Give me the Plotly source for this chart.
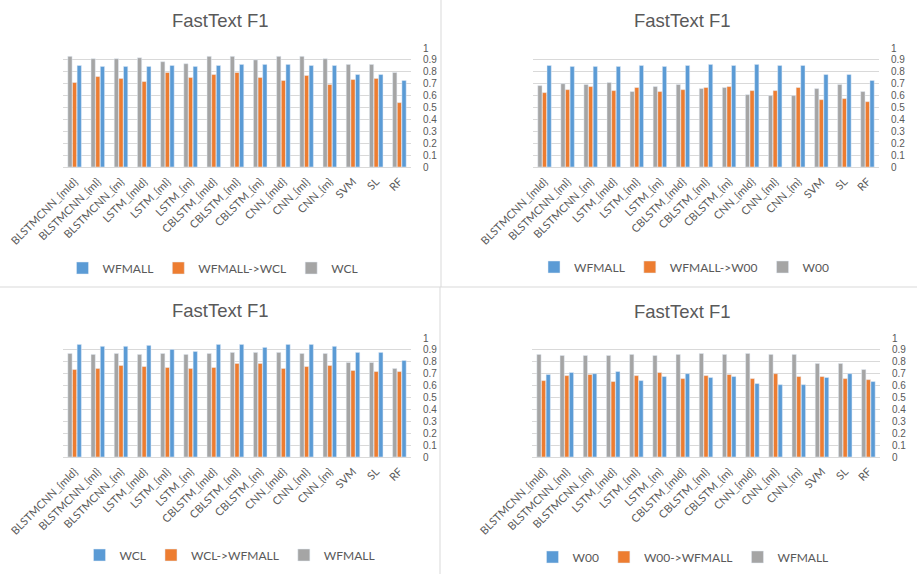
import plotly.graph_objects as go

categories = ["BLSTMCNN_{mld}", "BLSTMCNN_{ml}", "BLSTMCNN_{m}", "LSTM_{mld}", "LSTM_{ml}",
              "LSTM_{m}", "CBLSTM_{mld}", "CBLSTM_{ml}", "CBLSTM_{m}", "CNN_{mld}",
              "CNN_{ml}", "CNN_{m}", "SVM", "SL", "RF"]

# Panel 1 (top-left)
p1_names = ["WFMALL", "WFMALL->WCL", "WCL"]
p1_wfmall = [0.853, 0.845, 0.845, 0.845, 0.853, 0.845, 0.853, 0.862, 0.862, 0.862, 0.853, 0.853, 0.777, 0.777, 0.727]
p1_transfer = [0.71, 0.76, 0.744, 0.718, 0.794, 0.752, 0.777, 0.794, 0.752, 0.727, 0.769, 0.693, 0.735, 0.744, 0.541]
p1_wcl = [0.93, 0.91, 0.91, 0.918, 0.885, 0.868, 0.93, 0.93, 0.90, 0.93, 0.93, 0.91, 0.862, 0.862, 0.794]

# Panel 2 (top-right)
p2_names = ["WFMALL", "WFMALL->W00", "W00"]
p2_wfmall = [0.853, 0.845, 0.845, 0.845, 0.853, 0.845, 0.853, 0.862, 0.853, 0.862, 0.853, 0.853, 0.777, 0.777, 0.727]
p2_transfer = [0.625, 0.65, 0.676, 0.642, 0.668, 0.634, 0.65, 0.668, 0.676, 0.642, 0.642, 0.668, 0.566, 0.575, 0.549]
p2_w00 = [0.684, 0.70, 0.693, 0.71, 0.634, 0.676, 0.693, 0.659, 0.668, 0.608, 0.60, 0.60, 0.659, 0.693, 0.634]

# Panel 3 (bottom-left)
p3_names = ["WCL", "WCL->WFMALL", "WFMALL"]
p3_wcl = [0.946, 0.93, 0.93, 0.938, 0.904, 0.887, 0.946, 0.946, 0.921, 0.946, 0.946, 0.93, 0.879, 0.879, 0.811]
p3_transfer = [0.735, 0.744, 0.769, 0.76, 0.752, 0.744, 0.752, 0.786, 0.786, 0.744, 0.76, 0.769, 0.727, 0.718, 0.718]
p3_wfmall = [0.87, 0.862, 0.87, 0.862, 0.87, 0.862, 0.87, 0.879, 0.879, 0.879, 0.87, 0.87, 0.794, 0.794, 0.744]

# Panel 4 (bottom-right)
p4_names = ["W00", "W00->WFMALL", "WFMALL"]
p4_w00 = [0.693, 0.71, 0.70, 0.718, 0.642, 0.676, 0.70, 0.668, 0.676, 0.617, 0.608, 0.608, 0.668, 0.70, 0.634]
p4_transfer = [0.642, 0.684, 0.693, 0.634, 0.684, 0.71, 0.659, 0.684, 0.693, 0.659, 0.70, 0.676, 0.676, 0.659, 0.65]
p4_wfmall = [0.862, 0.853, 0.853, 0.853, 0.862, 0.853, 0.862, 0.87, 0.862, 0.87, 0.862, 0.862, 0.786, 0.786, 0.735]

title_text = "FastText F1"
y_ticks = [0, 0.1, 0.2, 0.3, 0.4, 0.5, 0.6, 0.7, 0.8, 0.9, 1]

BLUE, ORANGE, GREY = "#5B9BD5", "#ED7D31", "#A5A5A5"
TXT = "#595959"
GRID = "#D9D9D9"
FONT = "Liberation Sans"
LABEL_FONT = "Lato"
W, H = 917, 574

panels = [
    (p1_names, p1_wfmall, p1_transfer, p1_wcl),
    (p2_names, p2_wfmall, p2_transfer, p2_w00),
    (p3_names, p3_wcl, p3_transfer, p3_wfmall),
    (p4_names, p4_w00, p4_transfer, p4_wfmall),
]

# pixel geometry (x0, x1, ytop, ybottom), title center, legend center
geo = [
    dict(x=(63, 411), y=(48, 167), title=(220, 20), legend=(213, 268)),
    dict(x=(533, 879), y=(48, 167), title=(682, 20), legend=(684, 267)),
    dict(x=(63, 411), y=(338, 457), title=(220, 310), legend=(230, 555)),
    dict(x=(532, 880), y=(338, 457), title=(682, 311), legend=(683, 557)),
]

fig = go.Figure()
layout = {}
annotations = []
for i, ((names, blue, orange, grey), g) in enumerate(zip(panels, geo), start=1):
    sfx = "" if i == 1 else str(i)
    leg = "legend" if i == 1 else f"legend{i}"
    for name, vals, col in [(names[2], grey, GREY), (names[1], orange, ORANGE), (names[0], blue, BLUE)]:
        fig.add_trace(go.Bar(x=categories, y=vals, name=name, marker_color=col,
                             xaxis="x" + sfx, yaxis="y" + sfx, legend=leg))
    layout["xaxis" + sfx] = dict(
        domain=[g["x"][0] / W, g["x"][1] / W], anchor="y" + sfx, automargin=False,
        tickangle=-45, tickfont=dict(size=11, color=TXT, family=LABEL_FONT),
        showline=True, linecolor=GRID, linewidth=1, showgrid=False,
        ticks="outside", ticklen=3, tickcolor="rgba(0,0,0,0)",
    )
    layout["yaxis" + sfx] = dict(
        domain=[1 - g["y"][1] / H, 1 - g["y"][0] / H], anchor="x" + sfx, automargin=False,
        side="right", range=[0, 1], tickvals=y_ticks, ticktext=[f"{v:g}" for v in y_ticks],
        tickfont=dict(size=10, color=TXT, family=FONT), gridcolor=GRID, gridwidth=1,
        zeroline=False, showline=False, ticklabelstandoff=11,
    )
    layout[leg] = dict(
        orientation="h", x=g["legend"][0] / W, y=1 - g["legend"][1] / H,
        xanchor="center", yanchor="middle", traceorder="reversed",
        font=dict(size=12, color=TXT, family=LABEL_FONT), bgcolor="rgba(0,0,0,0)",
        itemwidth=30,
    )
    annotations.append(dict(
        text=title_text, x=g["title"][0] / W, y=1 - g["title"][1] / H,
        xref="paper", yref="paper", xanchor="center", yanchor="middle",
        showarrow=False, font=dict(size=18.5, color=TXT, family=FONT),
    ))

shapes = [
    dict(type="line", xref="paper", yref="paper", x0=441 / W, x1=441 / W, y0=1 - 287 / H, y1=1,
         line=dict(color=GRID, width=1)),
    dict(type="line", xref="paper", yref="paper", x0=440 / W, x1=440 / W, y0=0, y1=1 - 287 / H,
         line=dict(color=GRID, width=1)),
    dict(type="line", xref="paper", yref="paper", x0=0, x1=1, y0=1 - 287 / H, y1=1 - 287 / H,
         line=dict(color=GRID, width=1)),
]

fig.update_layout(
    width=W, height=H, margin=dict(l=0, r=0, t=0, b=0, autoexpand=False),
    paper_bgcolor="white", plot_bgcolor="white",
    barmode="group", bargap=0.4, bargroupgap=0.08,
    font=dict(family=FONT, color=TXT),
    annotations=annotations, shapes=shapes, **layout,
)

fig.write_html("out.html", config={"displayModeBar": False},
               post_script="document.body.style.margin='0';document.body.style.overflow='hidden';")
